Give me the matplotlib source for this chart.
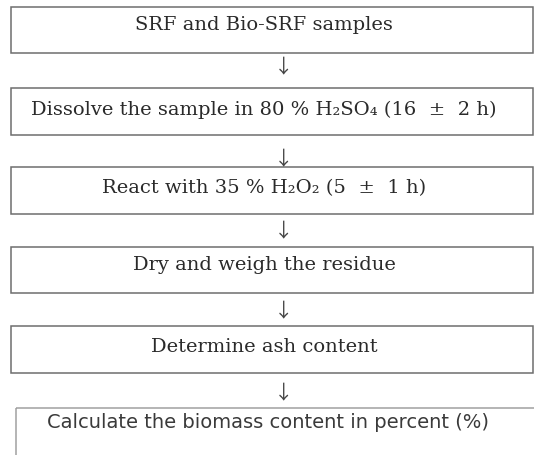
import matplotlib
matplotlib.use("Agg")
import matplotlib.pyplot as plt
from matplotlib.patches import Rectangle

# Flowchart steps (text content)
steps = [
    "SRF and Bio-SRF samples",
    "Dissolve the sample in 80 % H\u2082SO\u2084 (16  \u00b1  2 h)",
    "React with 35 % H\u2082O\u2082 (5  \u00b1  1 h)",
    "Dry and weigh the residue",
    "Determine ash content",
    "Calculate the biomass content in percent (%)",
]

# Layout (pixel coordinates, y downward)
box_left = [11, 11, 11, 11, 11, 16]
box_right = [533, 533, 533, 533, 533, 560]
box_top = [7, 88, 167, 247, 326, 408]
box_bottom = [53, 135, 214, 293, 373, 480]
text_y = [25, 110, 188, 265, 347, 423]
arrow_y = [67, 159, 231, 311, 393]

W, H = 534, 455
fig = plt.figure(figsize=(W / 100, H / 100), dpi=100)
ax = fig.add_axes([0, 0, 1, 1])
ax.set_xlim(0, W)
ax.set_ylim(H, 0)
ax.axis("off")

for i, label in enumerate(steps):
    x0, x1 = box_left[i], box_right[i]
    y0, y1 = box_top[i], box_bottom[i]
    last = i == len(steps) - 1
    ax.add_patch(Rectangle((x0, y0), x1 - x0, y1 - y0, fill=False,
                           edgecolor="#a0a0a0" if last else "#6e6e6e",
                           linewidth=1.1, clip_on=True))
    if last:
        ax.text(268, text_y[i], label, ha="center", va="center",
                fontsize=14, family="DejaVu Sans", color="#3a3a3a")
    else:
        ax.text(264, text_y[i], label, ha="center", va="center",
                fontsize=14, family="DejaVu Serif", color="#2a2a2a")

for y in arrow_y:
    ax.text(284, y, "\u2193", ha="center", va="center", fontsize=14,
            family=["Noto Sans CJK KR", "DejaVu Sans"], color="#444444")

fig.savefig("out.png", dpi=100)
